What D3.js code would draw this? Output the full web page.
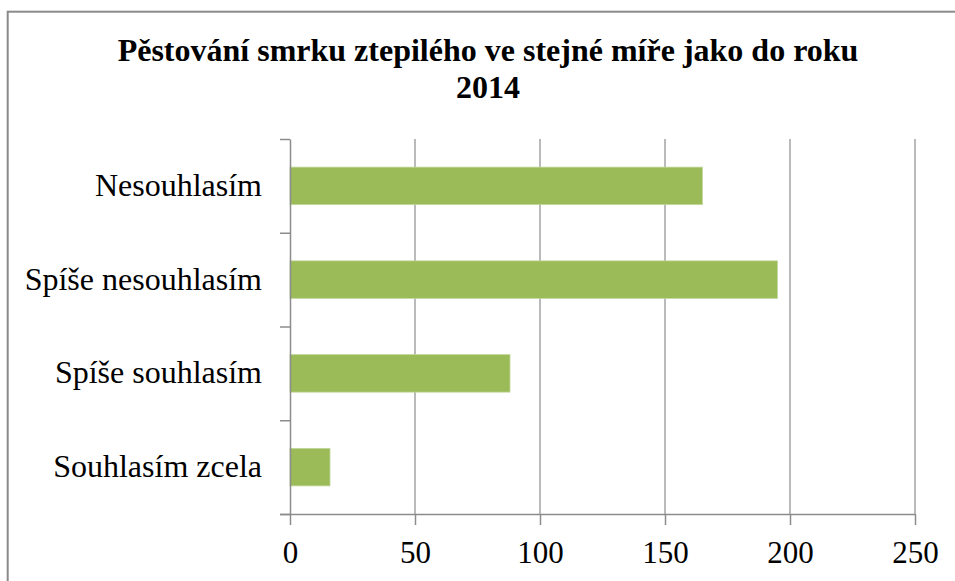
<!DOCTYPE html>
<html>
<head>
<meta charset="utf-8">
<script src="https://cdn.jsdelivr.net/npm/d3@7/dist/d3.min.js"></script>
<style>
  html, body { margin: 0; padding: 0; background: #fff; }
  svg { display: block; }
  text { font-family: "Liberation Serif", "Times New Roman", serif; fill: #000; }
</style>
</head>
<body>
<svg id="chart" width="955" height="581"></svg>
<script>
// Survey answers, top to bottom
const categories = ["Nesouhlasím", "Spíše nesouhlasím", "Spíše souhlasím", "Souhlasím zcela"];
const counts = [165, 195, 88, 16];
const xTicks = [0, 50, 100, 150, 200, 250];
const titleLines = ["Pěstování smrku ztepilého ve stejné míře jako do roku", "2014"];

const W = 955, H = 581;
const plot = { left: 290, right: 915, top: 139, bottom: 514 };

const svg = d3.select("#chart");

// outer chart frame (runs off the right and bottom edges)
svg.append("rect")
  .attr("x", 7.7).attr("y", 11.7)
  .attr("width", W + 20).attr("height", H + 20)
  .attr("fill", "#fff")
  .attr("stroke", "#8a8a8a")
  .attr("stroke-width", 2);

// title
svg.append("text")
  .attr("text-anchor", "middle")
  .attr("font-weight", "bold")
  .attr("font-size", 32)
  .selectAll("tspan")
  .data(titleLines)
  .join("tspan")
  .attr("x", 488)
  .attr("y", (d, i) => 61 + i * 37)
  .text(d => d);

const x = d3.scaleLinear().domain([0, 250]).range([plot.left, plot.right]);
const y = d3.scaleBand().domain(categories)
  .range([plot.top, plot.bottom])
  .paddingInner(0.6).paddingOuter(0.3);
// band boundaries for the category tick marks
const yEdge = d3.scaleLinear().domain([0, categories.length]).range([plot.top, plot.bottom]);

// vertical gridlines
svg.append("g")
  .selectAll("line")
  .data(xTicks.filter(v => v > 0))
  .join("line")
  .attr("x1", d => x(d)).attr("x2", d => x(d))
  .attr("y1", plot.top).attr("y2", plot.bottom)
  .attr("stroke", "#a3a3a3")
  .attr("stroke-width", 1.5);

// bars
svg.append("g")
  .selectAll("rect")
  .data(categories)
  .join("rect")
  .attr("x", x(0))
  .attr("y", d => y(d))
  .attr("width", (d, i) => x(counts[i]) - x(0))
  .attr("height", y.bandwidth())
  .attr("fill", "#9bbb59")
  .attr("stroke", "#c2d69c")
  .attr("stroke-width", 0.8);

// x axis
const xAxis = svg.append("g")
  .attr("transform", `translate(0,${plot.bottom})`)
  .call(d3.axisBottom(x).tickValues(xTicks).tickSize(11).tickPadding(12).tickSizeOuter(0));
xAxis.select(".domain").attr("stroke", "#8c8c8c").attr("stroke-width", 1.5)
  .attr("d", `M${plot.left - 10},0.5H${plot.right}`);
xAxis.selectAll(".tick line").attr("stroke", "#8c8c8c").attr("stroke-width", 1.5);
xAxis.selectAll(".tick text")
  .attr("font-family", "'Liberation Serif', 'Times New Roman', serif")
  .attr("font-size", 31)
  .attr("fill", "#000")
  .attr("dy", "0.85em");

// y axis: boundary ticks
const yAxis = svg.append("g")
  .attr("transform", `translate(${plot.left},0)`)
  .call(d3.axisLeft(yEdge).tickValues(d3.range(categories.length + 1)).tickFormat("").tickSize(10).tickSizeOuter(0));
yAxis.select(".domain").attr("stroke", "#8c8c8c").attr("stroke-width", 1.5);
yAxis.selectAll(".tick line").attr("stroke", "#8c8c8c").attr("stroke-width", 1.5);

// category labels
svg.append("g")
  .selectAll("text")
  .data(categories)
  .join("text")
  .attr("x", 262)
  .attr("y", d => y(d) + y.bandwidth() / 2 + 10)
  .attr("text-anchor", "end")
  .attr("font-size", 32)
  .text(d => d);
</script>
</body>
</html>
